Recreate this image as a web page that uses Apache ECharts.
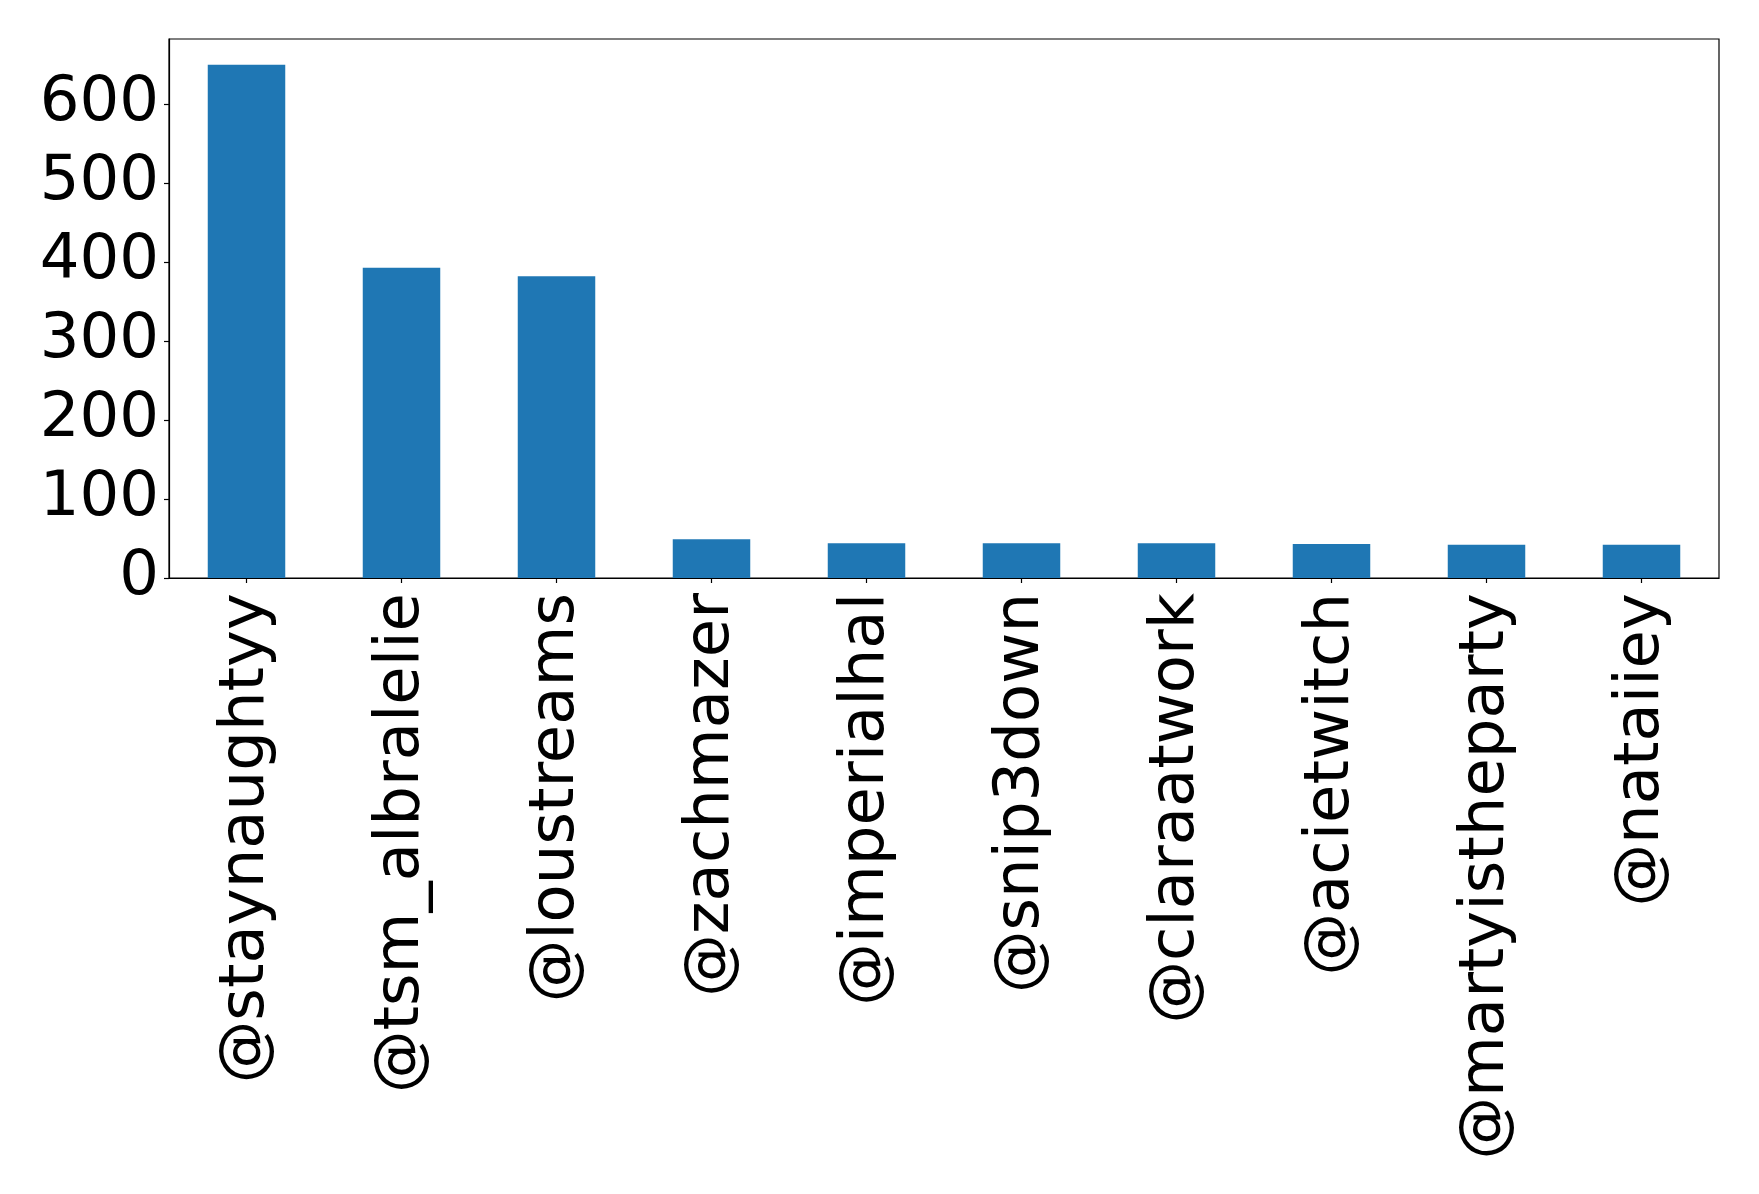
<!DOCTYPE html>
<html>
<head>
<meta charset="utf-8">
<script src="https://cdn.jsdelivr.net/npm/echarts@6/dist/echarts.min.js"></script>
<style>
html,body{margin:0;padding:0;background:#fff;}
#chart{width:1759px;height:1194px;}
</style>
</head>
<body>
<div id="chart"></div>
<script>
const categories = ["@staynaughtyy","@tsm_albralelie","@loustreams","@zachmazer","@imperialhal","@snip3down","@claraatwork","@acietwitch","@martyistheparty","@nataiiey"];
const values = [650, 393, 382, 49, 44, 44, 44, 43, 42, 42];
const yTicks = [0, 100, 200, 300, 400, 500, 600];

const chart = echarts.init(document.getElementById('chart'), null, {renderer: 'canvas'});
const font = 'DejaVu Sans';
chart.setOption({
  animation: false,
  backgroundColor: '#ffffff',
  grid: {
    left: 169, top: 39, right: 40, bottom: 616,
    show: true, borderColor: '#000', borderWidth: 1.2, backgroundColor: 'transparent'
  },
  xAxis: {
    type: 'category',
    data: categories,
    axisLine: {show: true, lineStyle: {color: '#000', width: 1.2}},
    axisTick: {show: true, alignWithLabel: true, length: 5, lineStyle: {color: '#000', width: 1.2}},
    axisLabel: {
      rotate: 90, interval: 0, margin: 15,
      padding: [9, 0, 0, 0],
      color: '#000', fontFamily: font, fontSize: 62.5
    },
    splitLine: {show: false}
  },
  yAxis: {
    type: 'value',
    min: 0, max: 682.5, interval: 100,
    axisLine: {show: true, lineStyle: {color: '#000', width: 1.2}},
    axisTick: {show: true, length: 5, lineStyle: {color: '#000', width: 1.2}},
    axisLabel: {
      margin: 10, color: '#000', fontFamily: font, fontSize: 62.5,
      padding: [4, 0, 0, 0],
      showMaxLabel: false,
      formatter: function (v) { return yTicks.indexOf(v) >= 0 ? String(v) : ''; }
    },
    splitLine: {show: false}
  },
  series: [{
    type: 'bar',
    data: values,
    barWidth: '50%',
    itemStyle: {color: '#1f77b4'}
  }]
});
</script>
</body>
</html>
